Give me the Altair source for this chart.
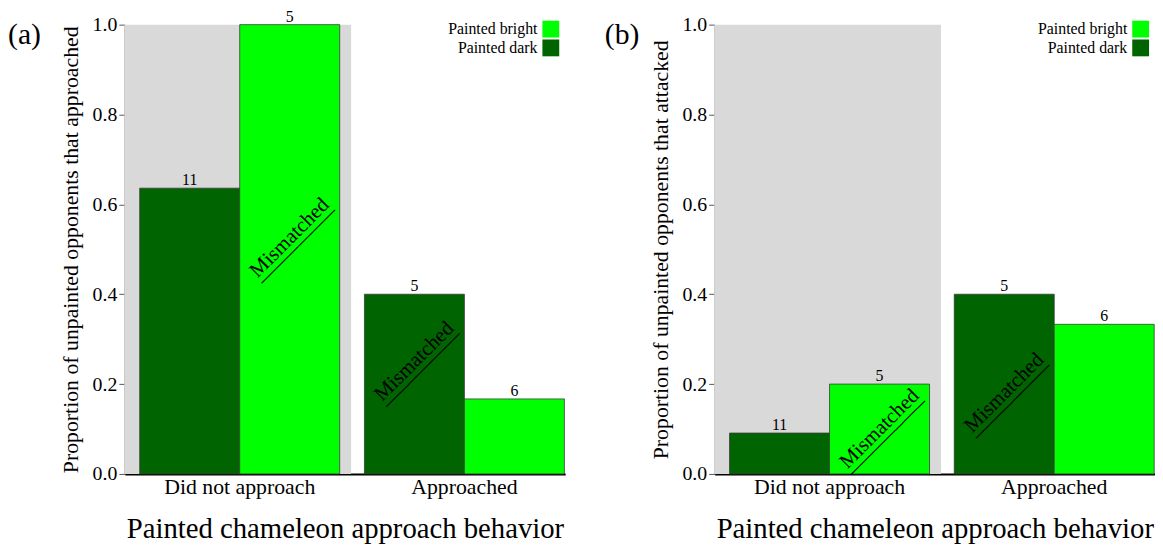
import altair as alt
import pandas as pd

groups = ["Did not approach", "Approached"]
paint_order = ["Painted dark", "Painted bright"]
legend_order = ["Painted bright", "Painted dark"]
colors = ["#00FF00", "#006400"]

behavior = ["Did not approach", "Did not approach", "Approached", "Approached"]
paint = ["Painted dark", "Painted bright", "Painted dark", "Painted bright"]
n_obs = [11, 5, 5, 6]
prop_approached = [0.636, 1.0, 0.4, 0.167]
prop_attacked = [0.091, 0.2, 0.4, 0.333]
mismatch_a = [None, 0.525, 0.25, None]
mismatch_b = [None, 0.10, 0.18, None]

FONT = "Liberation Serif"


def panel(prop, mism, ytitle, tag, tag_dx):
    df = pd.DataFrame({"behavior": behavior, "paint": paint, "n": n_obs,
                       "prop": prop, "mis": mism})
    xscale = alt.Scale(paddingInner=0.11, paddingOuter=0.035, align=0.95)
    xaxis = alt.Axis(title="Painted chameleon approach behavior", labelAngle=0,
                     ticks=False, domainColor="black", domainWidth=2,
                     labelFont=FONT, titleFont=FONT,
                     labelFontSize=22, titleFontSize=29, labelPadding=3,
                     titlePadding=17, labelColor="black", titleColor="black",
                     titleFontWeight="normal")
    yaxis = alt.Axis(title=ytitle, values=[0, 0.2, 0.4, 0.6, 0.8, 1.0], format=".1f",
                     tickSize=6, tickColor="#555", domainColor="#555", domainWidth=1.5,
                     labelFont=FONT, titleFont=FONT,
                     labelFontSize=20, titleFontSize=22, titlePadding=10,
                     grid=False, labelColor="black", titleColor="black",
                     titleFontWeight="normal")
    x = alt.X("behavior:N", sort=groups, scale=xscale, axis=xaxis)
    xo = alt.XOffset("paint:N", sort=paint_order,
                     scale=alt.Scale(paddingInner=0, paddingOuter=0))
    yscale = alt.Scale(domain=[0, 1], nice=False)

    grey = alt.Chart(pd.DataFrame({"behavior": [groups[0]], "top": [1.0]})).mark_bar(
        color="#D9D9D9", width=alt.RelativeBandSize(1.134), xOffset=-2
    ).encode(x=x, y=alt.Y("top:Q", scale=yscale, axis=yaxis))

    base = alt.Chart(df)
    bars = base.mark_bar(stroke="#3a3a3a", strokeWidth=0.8).encode(
        x=x, xOffset=xo,
        y=alt.Y("prop:Q", scale=yscale, axis=yaxis),
        color=alt.Color("paint:N", scale=alt.Scale(domain=legend_order, range=colors),
                        legend=alt.Legend(title=None, orient="none", legendX=422, legendY=-4,
                                          symbolType="square", symbolSize=289,
                                          symbolStrokeWidth=0, symbolOpacity=1,
                                          labelAlign="right", labelOffset={"expr": "-22"},
                                          labelFontSize=16, labelFont=FONT,
                                          labelColor="black", rowPadding=2)),
    )
    counts = base.mark_text(baseline="alphabetic", dy=-3, fontSize=16, color="black").encode(
        x=x, xOffset=xo, y=alt.Y("prop:Q", scale=yscale), text="n:Q")
    mis = base.transform_filter("datum.mis != null")
    mis_text = mis.mark_text(angle=315, fontSize=21, color="black", baseline="middle",
                             align="center").encode(
        x=x, xOffset=xo, y=alt.Y("mis:Q", scale=yscale), text=alt.value("Mismatched"))
    mis_line = mis.mark_text(angle=315, fontSize=21, color="black", baseline="middle",
                             align="center", dy=4).encode(
        x=x, xOffset=xo, y=alt.Y("mis:Q", scale=yscale), text=alt.value("__________"))
    label = alt.Chart(pd.DataFrame({"t": [tag]})).mark_text(
        align="left", baseline="middle", fontSize=30, color="black"
    ).encode(x=alt.value(tag_dx), y=alt.value(11), text="t:N")
    return alt.layer(grey, bars, counts, mis_text, mis_line, label).properties(
        width=445, height=454)


pa = panel(prop_approached, mismatch_a,
           "Proportion of unpainted opponents that approached", "(a)", -118)
pb = panel(prop_attacked, mismatch_b,
           "Proportion of unpainted opponents that attacked", "(b)", -111)

chart = alt.hconcat(pa, pb, spacing=40).resolve_scale(
    color="independent").resolve_legend(color="independent").properties(
    padding={"left": 0, "top": -2, "right": 0, "bottom": 0}
).configure(font=FONT).configure_axis(
    labelFont=FONT, titleFont=FONT
).configure_view(stroke=None)

chart.save("out.html", embed_options={"renderer": "svg", "actions": False})
